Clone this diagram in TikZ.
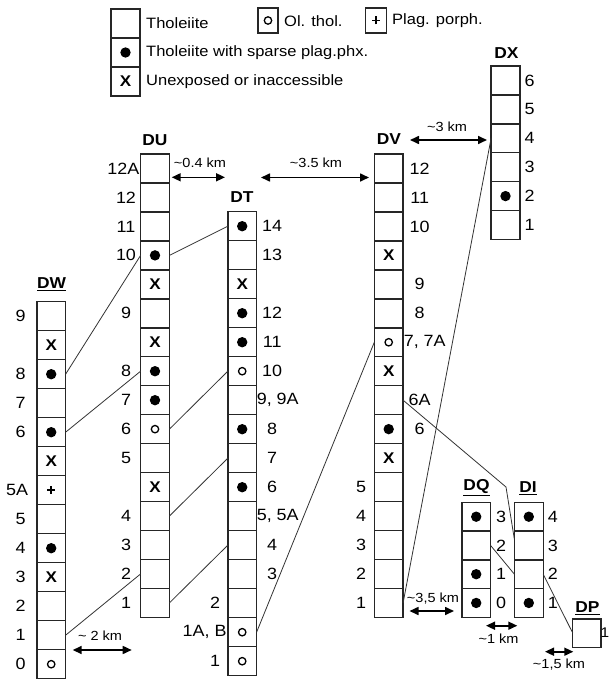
\documentclass[tikz,border=0pt]{standalone}
\usepackage{fontspec}
\setmainfont{Liberation Sans}[FakeStretch=1.1]
\usetikzlibrary{arrows.meta}
\begin{document}
\begin{tikzpicture}[x=1pt,y=-1pt,
  cell/.style={draw=black!85, line width=1.4pt, minimum width=28.8pt, minimum height=29pt, inner sep=0pt, outer sep=0pt},
  ce/.style={cell},
  cd/.style={cell, path picture={\fill[black] (path picture bounding box.center) circle[radius=5.2pt];}},
  co/.style={cell, path picture={\draw[black, line width=1.3pt] (path picture bounding box.center) circle[radius=3.7pt];}},
  cx/.style={cell, path picture={\node[font=\fontsize{15.5}{15.5}\selectfont\bfseries, inner sep=0pt] at (path picture bounding box.center) {X};}},
  cp/.style={cell, path picture={\draw[black, line width=1.7pt] ([xshift=-4pt]path picture bounding box.center) -- ++(8pt,0pt) ([yshift=-4pt]path picture bounding box.center) -- ++(0pt,8pt);}},
  lab/.style={font=\fontsize{16.3}{16.3}\selectfont, inner sep=0pt},
  legt/.style={font=\fontsize{15}{15}\selectfont, inner sep=0pt, anchor=west},
  title/.style={font=\fontsize{15.8}{15.8}\selectfont\bfseries, inner sep=0pt},
  distlab/.style={font=\fontsize{13.2}{13.2}\selectfont, inner sep=0pt},
  dist/.style={{Triangle[length=9pt,width=8pt]}-{Triangle[length=9pt,width=8pt]}, line width=1.6pt},
  conn/.style={draw=black!80, line width=0.8pt}]
\fill[white] (0,0) rectangle (608,679);
\useasboundingbox (0,0) rectangle (608,679);

% ---------- legend ----------
\node[ce] (L-1) at (125.5,23.5) {};
\node[cd] (L-2) at (125.5,52.5) {};
\node[cx] (L-3) at (125.5,81.5) {};
\node[legt] (Lt1) at (146,23.5) {Tholeiite};
\node[legt] (Lt2) at (146,52.5) {Tholeiite with sparse plag.phx.};
\node[legt] (Lt3) at (146,81.5) {Unexposed or inaccessible};
\node[co, minimum width=20pt, minimum height=25pt] (L-o) at (268,20.5) {};
\node[legt] (Lto) at (284,21) {Ol. thol.};
\node[cp, minimum width=21pt, minimum height=25pt] (L-p) at (376,20.5) {};
\node[legt] (Ltp) at (392,21) {Plag. porph.};

% ---------- columns ----------
\foreach \s [count=\i] in {ce,cx,cd,ce,cd,cx,cp,ce,cd,cx,ce,ce,co}
  \node[\s] (DW-\i) at (51.2,{316.2+(\i-1)*29}) {};
\foreach \s [count=\i] in {ce,ce,ce,cd,cx,ce,cx,cd,cd,co,ce,cx,ce,ce,ce,ce}
  \node[\s] (DU-\i) at (155,{168.5+(\i-1)*28.96}) {};
\foreach \s [count=\i] in {cd,ce,cx,cd,cd,co,ce,cd,ce,cd,ce,ce,ce,ce,co,co}
  \node[\s] (DT-\i) at (242.2,{226.2+(\i-1)*29}) {};
\foreach \s [count=\i] in {ce,ce,ce,cx,ce,ce,co,cx,ce,cd,cx,ce,ce,ce,ce,ce}
  \node[\s] (DV-\i) at (388.7,{168.5+(\i-1)*28.96}) {};
\foreach \s [count=\i] in {ce,ce,ce,ce,cd,ce}
  \node[\s] (DX-\i) at (505.5,{80.5+(\i-1)*28.9}) {};
\foreach \s [count=\i] in {cd,ce,cd,cd}
  \node[\s] (DQ-\i) at (476.2,{516.7+(\i-1)*28.75}) {};
\foreach \s [count=\i] in {cd,ce,ce,cd}
  \node[\s] (DI-\i) at (528.8,{516.7+(\i-1)*28.75}) {};
\node[ce, minimum width=28.3pt, minimum height=28.3pt] (DP) at (586.9,633.1) {};

% ---------- titles ----------
\node[title] (tDW) at (51.5,284) {\underline{DW}};
\node[title] (tDU) at (155,140) {DU};
\node[title] (tDT) at (242,197) {DT};
\node[title] (tDV) at (389,139) {DV};
\node[title] (tDX) at (506.5,53) {DX};
\node[title] (tDQ) at (476.5,488) {\underline{DQ}};
\node[title] (tDI) at (528,488) {\underline{DI}};
\node[title] (tDP) at (587.5,608) {\underline{DP}};

% ---------- row labels ----------
\foreach \i/\t in {1/9,3/8,4/7,5/6,8/5,9/4,10/3,11/2,12/1,13/0}
  \node[lab] (lDW\i) at ([xshift=-30.7pt]DW-\i.center) {\t};
\node[lab, anchor=east] (lDW7) at ([xshift=-8.5pt]DW-7.west) {5A};
\node[lab, anchor=east] (lDU1) at ([xshift=-1pt]DU-1.west) {12A};
\foreach \i/\t in {2/12,3/11,4/10,6/9,8/8,9/7,10/6,11/5,13/4,14/3,15/2,16/1}
  \node[lab] (lDU\i) at ([xshift=-29pt]DU-\i.center) {\t};
\foreach \i/\t in {1/14,2/13,4/12,5/11,6/10,8/8,9/7,10/6,12/4,13/3}
  \node[lab] (lDT\i) at ([xshift=30pt]DT-\i.center) {\t};
\node[lab, anchor=west] (lDT7) at ([xshift=0pt]DT-7.east) {9, 9A};
\node[lab, anchor=west] (lDT11) at ([xshift=0pt]DT-11.east) {5, 5A};
\node[lab] (lDT14) at ([xshift=-27pt]DT-14.center) {2};
\node[lab, anchor=east] (lDT15) at ([xshift=-1pt]DT-15.west) {1A, B};
\node[lab] (lDT16) at ([xshift=-27pt]DT-16.center) {1};
\foreach \i/\t in {1/12,2/11,3/10,5/9,6/8,9/6A,10/6}
  \node[lab] (lDV\i) at ([xshift=31pt]DV-\i.center) {\t};
\node[lab, anchor=west] (lDV7) at ([xshift=0.5pt]DV-7.east) {7, 7A};
\foreach \i/\t in {12/5,13/4,14/3,15/2,16/1}
  \node[lab] (lDV\i) at ([xshift=-27.7pt]DV-\i.center) {\t};
\foreach \i/\t in {1/6,2/5,3/4,4/3,5/2,6/1}
  \node[lab] (lDX\i) at ([xshift=24pt]DX-\i.center) {\t};
\foreach \i/\t in {1/3,2/2,3/1,4/0}
  \node[lab] (lDQ\i) at ([xshift=25pt]DQ-\i.center) {\t};
\foreach \i/\t in {1/4,2/3,3/2,4/1}
  \node[lab] (lDI\i) at ([xshift=24pt]DI-\i.center) {\t};
\node[lab, font=\fontsize{14}{14}\selectfont, anchor=west] (lDP) at ([xshift=-0.75pt]DP.east) {\makebox[6pt][l]{1}};

% ---------- correlation lines ----------
\draw[conn] (DW-3.east) -- (DU-4.west);
\draw[conn] (DW-5.east) -- (DU-8.west);
\draw[conn] (DW-12.east) -- (DU-15.west);
\draw[conn] (DU-4.east) -- (DT-1.west);
\draw[conn] (DU-10.east) -- (DT-6.west);
\draw[conn] (DU-13.east) -- (DT-9.west);
\draw[conn] (DU-16.east) -- (DT-12.west);
\draw[conn] (DT-15.east) -- (DV-7.west);
\draw[conn] (DV-16.east) -- (DX-3.west);
\coordinate (bend) at (506,487);
\draw[conn] (DV-9.east) -- (bend) -- ([yshift=6pt]DI-2.west);
\draw[conn] (DQ-2.east) -- (DI-3.west);
\draw[conn] (DI-3.east) -- (DP.west);

% ---------- distances ----------
\coordinate (a1l) at (171.7,177.3); \coordinate (a1r) at (225,177.3);
\draw[dist] (a1l) -- (a1r);
\node[distlab] (d1) at (200,163) {\textasciitilde0.4 km};
\coordinate (a2l) at (261,177.5); \coordinate (a2r) at (369,177.5);
\draw[dist] (a2l) -- (a2r);
\node[distlab] (d2) at (316,163) {\textasciitilde3.5 km};
\coordinate (a3l) at (410,140); \coordinate (a3r) at (487,140);
\draw[dist] (a3l) -- (a3r);
\node[distlab] (d3) at (447,126.5) {\textasciitilde3 km};
\coordinate (a4l) at (72.7,650); \coordinate (a4r) at (131.7,650);
\draw[dist] (a4l) -- (a4r);
\node[distlab] (d4) at (100,636) {\textasciitilde\ 2 km};
\coordinate (a5l) at (409.5,611); \coordinate (a5r) at (454,611);
\draw[dist] (a5l) -- (a5r);
\node[distlab] (d5) at (433,598.5) {\textasciitilde3,5 km};
\coordinate (a6l) at (486,625.7); \coordinate (a6r) at (517.3,625.7);
\draw[dist] (a6l) -- (a6r);
\node[distlab] (d6) at (498.5,638.5) {\textasciitilde1 km};
\coordinate (a7l) at (545,651.7); \coordinate (a7r) at (573.3,651.7);
\draw[dist] (a7l) -- (a7r);
\node[distlab] (d7) at (559,665) {\textasciitilde1,5 km};
\end{tikzpicture}
\end{document}
